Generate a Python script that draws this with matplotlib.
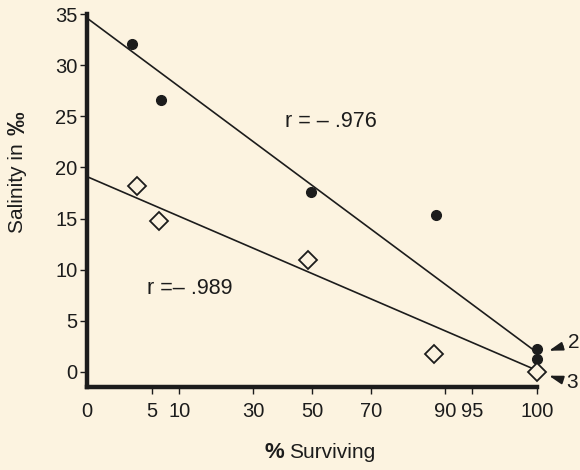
import numpy as np
import matplotlib
matplotlib.use("Agg")
import matplotlib.pyplot as plt

# data (% surviving vs salinity)
pct_circle = [2.4, 6.6, 49.5, 88, 100, 100]
sal_circle = [32.1, 26.6, 17.6, 15.3, 2.2, 1.25]
pct_diamond = [3.0, 6.2, 48.7, 87.6, 100]
sal_diamond = [18.2, 14.8, 10.9, 1.75, 0.0]

# fitted lines (end points at 0 and 100 %)
fit_x = [0, 100]
fit_upper = [34.6, 1.9]
fit_lower = [19.1, 0.15]

xticks = [0, 5, 10, 30, 50, 70, 90, 95, 100]
yticks = [0, 5, 10, 15, 20, 25, 30, 35]

bg = "#fcf3e0"
ink = "#1c1c1c"
plt.rcParams['font.family'] = ['Liberation Sans Narrow', 'Liberation Sans', 'DejaVu Sans']


# arcsine (angular) transform of percent
def fwd(x):
    x = np.clip(np.asarray(x, dtype=float) / 100.0, 0, 1)
    return np.degrees(np.arcsin(np.sqrt(x)))


def inv(y):
    y = np.clip(np.asarray(y, dtype=float), 0, 90)
    return 100.0 * np.sin(np.radians(y)) ** 2


fig = plt.figure(figsize=(5.8, 4.7), dpi=100, facecolor=bg)
ax = fig.add_axes([87 / 580, 83 / 470, 450 / 580, 373 / 470])
ax.set_facecolor(bg)
ax.set_xscale('function', functions=(fwd, inv))
ax.set_xlim(0, 100)
ax.set_ylim(-1.47, 35)

ax.plot(fit_x, fit_upper, color=ink, lw=1.2, clip_on=False)
ax.plot(fit_x, fit_lower, color=ink, lw=1.2, clip_on=False)
ax.plot(pct_circle, sal_circle, 'o', color=ink, ms=7, clip_on=False, zorder=3)
ax.plot(pct_diamond, sal_diamond, 'D', mfc=bg, mec=ink, mew=1.3, ms=9,
        clip_on=False, zorder=3)

ax.text(56.5, 24.5, "r = – .976", fontsize=15.5, color=ink, ha='center', va='center')
ax.text(12.3, 8.2, "r =– .989", fontsize=15.5, color=ink, ha='center', va='center')

arrow = dict(arrowstyle='-|>,head_length=0.55,head_width=0.17', color=ink, lw=1.3,
             shrinkA=2, shrinkB=9)
ax.annotate("2", xy=(100, 1.7), xytext=(37, 12), textcoords='offset pixels',
            fontsize=15, color=ink, ha='center', va='center',
            arrowprops=dict(arrow, relpos=(0, 0.4)), annotation_clip=False)
ax.annotate("3", xy=(100, 0.0), xytext=(35, -11), textcoords='offset pixels',
            fontsize=15, color=ink, ha='center', va='center',
            arrowprops=dict(arrow, relpos=(0, 0.6)), annotation_clip=False)

ax.set_xticks(xticks)
ax.set_xticklabels([str(v) for v in xticks])
ax.set_yticks(yticks)
ax.minorticks_off()
ax.tick_params(axis='both', labelsize=14.5, colors=ink, width=1, direction='out')
ax.tick_params(axis='y', length=5, pad=2)
ax.tick_params(axis='x', length=5, pad=6)
ax.xaxis.get_major_ticks()[0].tick1line.set_visible(False)

for side in ['top', 'right']:
    ax.spines[side].set_visible(False)
for side in ['left', 'bottom']:
    ax.spines[side].set_linewidth(3.2)
    ax.spines[side].set_color(ink)

# axis titles (bold % and ‰ signs as in the original)
fig.text(274 / 580, 1 - 452 / 470, "%", fontsize=16, color=ink,
         ha='center', va='center', fontweight='bold')
fig.text(289 / 580, 1 - 453 / 470, "Surviving", fontsize=15, color=ink,
         ha='left', va='center')
fig.text(18 / 580, 1 - 143 / 470, "Salinity in", fontsize=15, color=ink,
         rotation=90, ha='center', va='top')
fig.text(18 / 580, 1 - 135 / 470, "‰", fontsize=17, color=ink,
         rotation=90, ha='center', va='bottom', fontweight='bold')

fig.savefig("out.png", dpi=100, facecolor=bg)
